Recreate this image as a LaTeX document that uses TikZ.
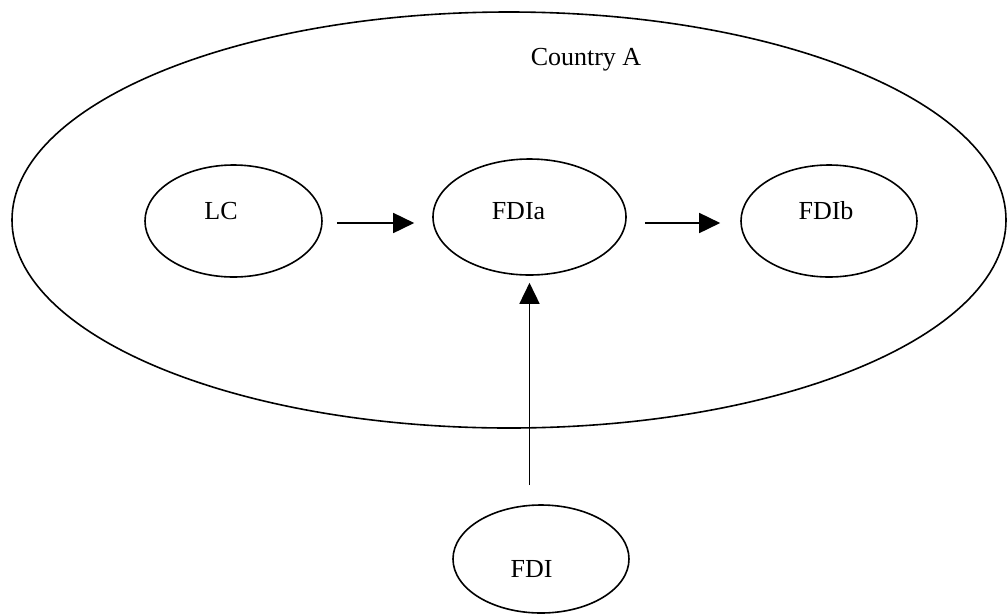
\documentclass[tikz,border=0pt]{standalone}
\usepackage{fontspec}
\setmainfont{Liberation Serif}
\usetikzlibrary{shapes.geometric,arrows.meta}
\begin{document}
\begin{tikzpicture}[x=1pt,y=-1pt,
  ell/.style={draw,ellipse,line width=1.6pt,inner sep=0pt},
  txt/.style={anchor=base,inner sep=0pt,font=\fontsize{26}{30}\selectfont},
  arr/.style={line width=1.6pt,-{Triangle[length=21pt,width=20pt]}}]
\useasboundingbox (0,0) rectangle (1007,614);
\node[ell,minimum width=994pt,minimum height=416pt] (A) at (509,220) {};
\node[txt] (Atxt) at (586,65) {Country A};
\node[ell,minimum width=177pt,minimum height=112pt] (LC) at (233.5,221) {};
\node[txt] (LCtxt) at (221,219) {LC};
\node[ell,minimum width=193pt,minimum height=116pt] (FDIa) at (529.5,217) {};
\node[txt] (FDIatxt) at (518.5,219) {FDIa};
\node[ell,minimum width=176pt,minimum height=112pt] (FDIb) at (829,221) {};
\node[txt] (FDIbtxt) at (826,219) {FDIb};
\node[ell,minimum width=176pt,minimum height=108pt] (FDI) at (541,559) {};
\node[txt] (FDItxt) at (531.5,577) {FDI};
\draw[arr] ([xshift=14pt,yshift=-2pt]LC.east) -- ([xshift=-18pt,yshift=-6pt]FDIa.west);
\draw[arr] ([xshift=18pt,yshift=-6pt]FDIa.east) -- ([xshift=-20pt,yshift=-2pt]FDIb.west);
\draw[arr] ([yshift=19pt]FDIa.south |- FDI.north) -- ([yshift=-7pt]FDIa.south);
\end{tikzpicture}
\end{document}
